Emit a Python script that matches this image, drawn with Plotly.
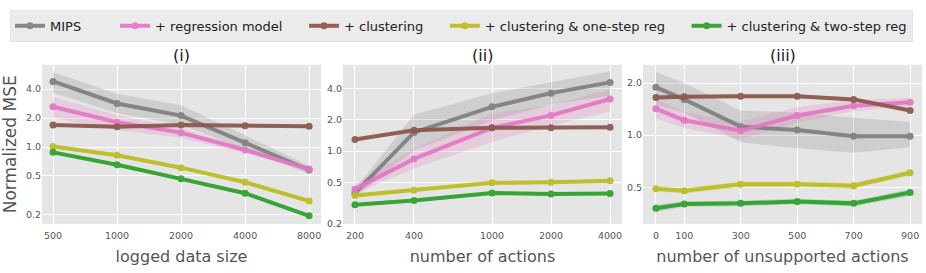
import plotly.graph_objects as go

# ---------------- data ----------------
series_names = ["MIPS", "+ regression model", "+ clustering",
                "+ clustering & one-step reg", "+ clustering & two-step reg"]
colors = ["#7f7f7f", "#e377c2", "#8c564b", "#bcbd22", "#2ca02c"]
band_rgb = ["127,127,127", "227,119,194", "140,86,75", "188,189,34", "44,160,44"]

# panel (i): logged data size
x_i = [500, 1000, 2000, 4000, 8000]
mips_i = [4.8, 2.83, 2.12, 1.11, 0.577]
mips_i_lo = [3.67, 2.24, 1.70, 0.95, 0.525]
mips_i_hi = [5.97, 3.58, 2.72, 1.32, 0.64]
reg_i = [2.62, 1.81, 1.41, 0.93, 0.59]
reg_i_lo = [2.0, 1.51, 1.24, 0.87, 0.56]
reg_i_hi = [3.3, 2.15, 1.57, 1.0, 0.63]
clu_i = [1.69, 1.62, 1.69, 1.66, 1.64]
clu_i_lo = [1.64, 1.57, 1.64, 1.61, 1.59]
clu_i_hi = [1.74, 1.67, 1.74, 1.71, 1.69]
one_i = [1.01, 0.82, 0.61, 0.43, 0.275]
one_i_lo = [0.97, 0.79, 0.59, 0.415, 0.265]
one_i_hi = [1.05, 0.85, 0.63, 0.445, 0.285]
two_i = [0.88, 0.655, 0.467, 0.331, 0.193]
two_i_lo = [0.845, 0.63, 0.45, 0.32, 0.186]
two_i_hi = [0.915, 0.68, 0.485, 0.342, 0.2]

# panel (ii): number of actions
x_ii = [200, 400, 1000, 2000, 4000]
mips_ii = [0.393, 1.51, 2.66, 3.6, 4.57]
mips_ii_lo = [0.36, 1.02, 1.95, 2.8, 3.4]
mips_ii_hi = [0.43, 2.25, 3.6, 4.57, 5.84]
reg_ii = [0.43, 0.84, 1.67, 2.2, 3.16]
reg_ii_lo = [0.39, 0.68, 1.22, 1.75, 2.4]
reg_ii_hi = [0.48, 1.05, 2.3, 2.75, 3.9]
clu_ii = [1.29, 1.58, 1.67, 1.67, 1.69]
clu_ii_lo = [1.25, 1.53, 1.62, 1.62, 1.64]
clu_ii_hi = [1.33, 1.63, 1.72, 1.72, 1.74]
one_ii = [0.373, 0.42, 0.495, 0.50, 0.517]
one_ii_lo = [0.36, 0.405, 0.478, 0.483, 0.5]
one_ii_hi = [0.386, 0.435, 0.512, 0.517, 0.534]
two_ii = [0.305, 0.335, 0.395, 0.387, 0.39]
two_ii_lo = [0.295, 0.323, 0.382, 0.374, 0.377]
two_ii_hi = [0.315, 0.347, 0.408, 0.4, 0.403]

# panel (iii): number of unsupported actions
x_iii = [0, 100, 300, 500, 700, 900]
mips_iii = [1.89, 1.61, 1.12, 1.07, 0.987, 0.987]
mips_iii_lo = [1.5, 1.35, 0.91, 0.84, 0.79, 0.85]
mips_iii_hi = [2.32, 2.0, 1.39, 1.35, 1.26, 1.19]
reg_iii = [1.42, 1.22, 1.06, 1.30, 1.48, 1.55]
reg_iii_lo = [1.25, 1.1, 0.95, 1.18, 1.38, 1.47]
reg_iii_hi = [1.62, 1.36, 1.2, 1.45, 1.6, 1.64]
clu_iii = [1.65, 1.67, 1.68, 1.68, 1.61, 1.39]
clu_iii_lo = [1.61, 1.63, 1.64, 1.64, 1.57, 1.35]
clu_iii_hi = [1.69, 1.71, 1.72, 1.72, 1.65, 1.43]
one_iii = [0.49, 0.477, 0.52, 0.52, 0.51, 0.606]
one_iii_lo = [0.47, 0.46, 0.5, 0.5, 0.49, 0.585]
one_iii_hi = [0.51, 0.495, 0.54, 0.54, 0.53, 0.627]
two_iii = [0.378, 0.40, 0.403, 0.413, 0.403, 0.466]
two_iii_lo = [0.36, 0.385, 0.388, 0.398, 0.388, 0.445]
two_iii_hi = [0.396, 0.415, 0.418, 0.428, 0.418, 0.487]

panels = [
    (x_i, [(mips_i, mips_i_lo, mips_i_hi), (reg_i, reg_i_lo, reg_i_hi),
           (clu_i, clu_i_lo, clu_i_hi), (one_i, one_i_lo, one_i_hi),
           (two_i, two_i_lo, two_i_hi)]),
    (x_ii, [(mips_ii, mips_ii_lo, mips_ii_hi), (reg_ii, reg_ii_lo, reg_ii_hi),
            (clu_ii, clu_ii_lo, clu_ii_hi), (one_ii, one_ii_lo, one_ii_hi),
            (two_ii, two_ii_lo, two_ii_hi)]),
    (x_iii, [(mips_iii, mips_iii_lo, mips_iii_hi), (reg_iii, reg_iii_lo, reg_iii_hi),
             (clu_iii, clu_iii_lo, clu_iii_hi), (one_iii, one_iii_lo, one_iii_hi),
             (two_iii, two_iii_lo, two_iii_hi)]),
]

panel_titles = ["(i)", "(ii)", "(iii)"]
x_titles = ["logged data size", "number of actions", "number of unsupported actions"]
x_tickvals = [x_i, x_ii, x_iii]
y_tickvals = [[0.2, 0.5, 1.0, 2.0, 4.0], [0.2, 0.5, 1.0, 2.0, 4.0], [0.5, 1.0, 2.0]]

# ---------------- figure ----------------
W, H = 926, 273
FONT = "DejaVu Sans"
legend_pad = [7, 4, 4, 4, 0]   # non-breaking spaces after each legend label (column spacing)
fig = go.Figure()

for p, (xs, sers) in enumerate(panels):
    sfx = "" if p == 0 else str(p + 1)
    for s, (ys, lo, hi) in enumerate(sers):
        fig.add_trace(go.Scatter(x=xs, y=hi, mode="lines", line=dict(width=0),
                                 xaxis="x" + sfx, yaxis="y" + sfx,
                                 showlegend=False, hoverinfo="skip"))
        fig.add_trace(go.Scatter(x=xs, y=lo, mode="lines", line=dict(width=0),
                                 fill="tonexty", fillcolor=f"rgba({band_rgb[s]},0.22)",
                                 xaxis="x" + sfx, yaxis="y" + sfx,
                                 showlegend=False, hoverinfo="skip"))
    for s, (ys, lo, hi) in enumerate(sers):
        label = series_names[s] + "\u00a0" * legend_pad[s]
        fig.add_trace(go.Scatter(x=xs, y=ys, mode="lines+markers", name=label,
                                 line=dict(color=colors[s], width=4),
                                 marker=dict(color=colors[s], size=7),
                                 opacity=0.92,
                                 xaxis="x" + sfx, yaxis="y" + sfx,
                                 legendgroup=series_names[s], showlegend=(p == 0)))

# layout geometry (pixels -> paper)
x_dom_px = [(42, 321), (343, 622), (643, 922)]
y_top, y_bot = 66, 228
y_dom = [(H - y_bot) / H, (H - y_top) / H]
x_ranges = [[2.647, 3.959], [2.240, 3.663], [-46, 942]]
x_types = ["log", "log", "linear"]
y_ranges = [[-0.798, 0.854], [-0.70, 0.829], [-0.513, 0.407]]

layout = dict(
    width=W, height=H, margin=dict(l=0, r=0, t=0, b=0),
    paper_bgcolor="white", plot_bgcolor="#e5e5e5",
    font=dict(family=FONT, color="#555555"),
    showlegend=True,
    legend=dict(orientation="h", x=10 / W, y=(H - 10) / H, xanchor="left", yanchor="top",
                bgcolor="#ebebeb", bordercolor="#e3e3e3", borderwidth=1,
                font=dict(size=13, color="#222222", family=FONT),
                itemwidth=30, tracegroupgap=0),
    annotations=[], shapes=[],
)

for p in range(3):
    sfx = "" if p == 0 else str(p + 1)
    x0, x1 = x_dom_px[p]
    layout["xaxis" + sfx] = dict(
        domain=[x0 / W, x1 / W], anchor="y" + sfx, type=x_types[p], range=x_ranges[p],
        tickvals=x_tickvals[p], ticktext=[str(v) for v in x_tickvals[p]],
        showgrid=True, gridcolor="white", gridwidth=1, zeroline=False, showline=False,
        ticks="", ticklabelstandoff=5, tickfont=dict(size=9.5, color="#555555"),
        title=dict(text=x_titles[p], font=dict(size=16, color="#555555"), standoff=10),
    )
    layout["yaxis" + sfx] = dict(
        domain=y_dom, anchor="x" + sfx, type="log", range=y_ranges[p],
        tickvals=y_tickvals[p], ticktext=[f"{v:.1f}" for v in y_tickvals[p]],
        showgrid=True, gridcolor="white", gridwidth=1, zeroline=False, showline=False,
        ticks="", tickfont=dict(size=9.5, color="#555555"),
    )
    layout["annotations"].append(dict(
        text=panel_titles[p], x=(x0 + x1) / 2 / W, y=(H - 57) / H, xref="paper", yref="paper",
        xanchor="center", yanchor="middle", showarrow=False,
        font=dict(size=16, color="#222222")))

layout["yaxis"]["title"] = dict(text="Normalized MSE", font=dict(size=17, color="#555555"),
                                standoff=4)

fig.update_layout(**layout)
fig.write_html("out.html", config={"displayModeBar": False},
               post_script="document.body.style.margin='0';document.body.style.overflow='hidden';")
